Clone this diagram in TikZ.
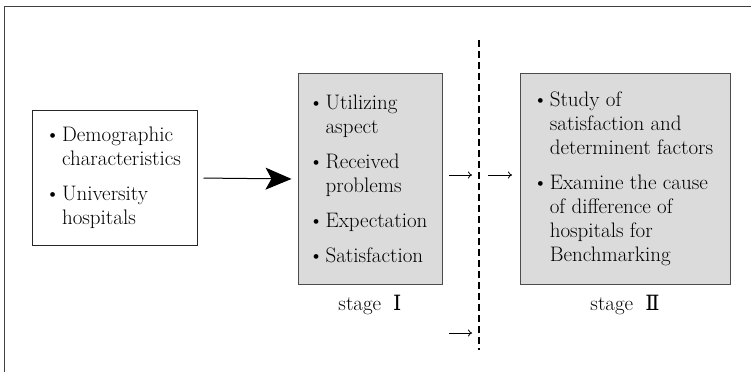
\documentclass[tikz,border=0pt]{standalone}
\usepackage{fontspec}
\newfontfamily\romfont{DejaVu Serif}
\usetikzlibrary{arrows.meta,positioning}

\newcommand{\bitem}{\makebox[13pt][l]{\hspace*{-4pt}\textbullet}}
\newcommand{\bcont}{\hspace*{13pt}}

\begin{document}
\begin{tikzpicture}[
  x=1pt,
  y=-1pt,
  font=\fontsize{21}{24}\selectfont,
  inbox/.style={
    draw=black!85,
    fill=white,
    line width=1pt,
    align=left,
    inner sep=0pt,
    minimum width=165pt,
    minimum height=135pt
  },
  stagebox/.style={
    draw=black!70,
    fill=gray!28,
    line width=1pt,
    align=left,
    inner sep=0pt,
    minimum height=211pt
  },
  stagelabel/.style={inner sep=0pt},
  bigflow/.style={-{Stealth[length=26pt,width=22pt,inset=6pt]}, line width=1pt},
  passflow/.style={-{To[length=4pt,width=7pt]}, line width=0.8pt},
  cutline/.style={dash pattern=on 7pt off 4pt, line width=1.1pt},
  outerframe/.style={draw=black!75, line width=0.9pt}
]

\useasboundingbox (0,0) rectangle (751,372);

% frame of the scanned figure
\draw[outerframe] (4,372) -- (4,6) -- (751,6);

% input box
\node[inbox] (basis) at (115,178)
  {\bitem Demographic\\ \bcont characteristics\\[11pt]
   \bitem University\\ \bcont hospitals};

% stage I
\node[stagebox, minimum width=144pt] (stageone) at (370,179)
  {\bitem Utilizing\\ \bcont aspect\\[11pt]
   \bitem Received\\ \bcont problems\\[11pt]
   \bitem Expectation\\[11pt]
   \bitem Satisfaction};
\node[stagelabel, below=10pt of stageone] (labone) {stage\hspace{12pt}{\romfont Ⅰ}};

% stage II
\node[stagebox, minimum width=210pt] (stagetwo) at (625,179)
  {\bitem Study of\\ \bcont satisfaction and\\ \bcont determinent factors\\[11pt]
   \bitem Examine the cause\\ \bcont of difference of\\ \bcont hospitals for\\ \bcont Benchmarking};
\node[stagelabel, below=10pt of stagetwo] (labtwo) {stage\hspace{12pt}{\romfont Ⅱ}};

% dividing line between the stages
\coordinate (cuttop) at (479,40);
\coordinate (cutbot) at (479,350);
\coordinate (cutA) at (479,175);
\coordinate (cutB) at (479,333);
\draw[cutline] (cuttop) -- (cutbot);

% connectors
\draw[bigflow, shorten <=5.5pt, shorten >=6pt] (basis.east) -- (stageone.west);
\draw[passflow, shorten <=6.5pt, shorten >=7pt] (stageone.east |- cutA) -- (cutA);
\draw[passflow, shorten <=9pt, shorten >=7.5pt] (cutA) -- (stagetwo.west |- cutA);
\draw[passflow, shorten <=6.5pt, shorten >=7pt] (stageone.east |- cutB) -- (cutB);

\end{tikzpicture}
\end{document}
